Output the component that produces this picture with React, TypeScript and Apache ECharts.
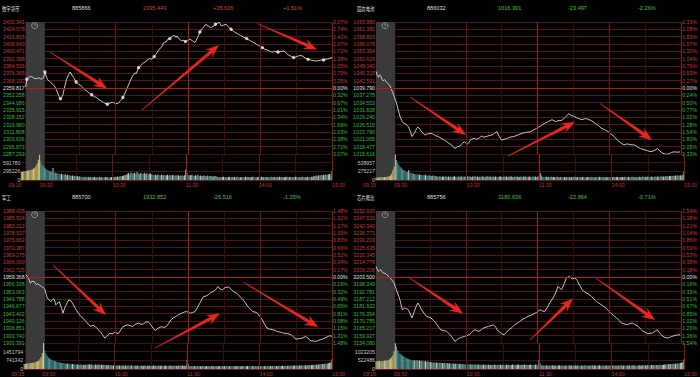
import React, { useEffect, useRef } from 'react';
import * as echarts from 'echarts';

// ---------- titles ----------
const NAMES = ['数字货币', '固态电池', '军工', '芯片概念'];
const CODES = ['885866', '886032', '885700', '885756'];
const LASTS = ['2395.443', '1016.301', '1932.852', '3180.636'];
const CHGS = ['+35.626', '-23.497', '-26.516', '-22.864'];
const PCTS = ['+1.51%', '-2.26%', '-1.35%', '-0.71%'];
const UP = [true, false, false, false];

// ---------- axis labels (top -> bottom) ----------
const TL_PRICE_LABELS = ['2432.341','2424.578','2416.815','2408.643','2400.471','2392.398','2384.536','2376.365','2368.193','2359.817','2352.258','2344.086','2335.915','2328.152','2319.980','2311.808','2303.636','2295.873','2287.293'];
const TL_PCT_LABELS = ['3.07%','2.74%','2.42%','2.07%','1.72%','1.38%','1.05%','0.70%','0.35%','0.00%','0.32%','0.67%','1.01%','1.34%','1.69%','2.03%','2.38%','2.71%','3.07%'];
const TR_PRICE_LABELS = ['1063.980','1061.382','1058.803','1056.078','1053.354','1050.629','1048.040','1045.315','1042.591','1039.790','1037.278','1034.553','1031.828','1029.240','1026.515','1023.790','1021.065','1018.477','1015.616'];
const TR_PCT_LABELS = ['2.33%','2.08%','1.83%','1.57%','1.30%','1.04%','0.79%','0.53%','0.27%','0.00%','0.24%','0.50%','0.77%','1.02%','1.28%','1.54%','1.80%','2.05%','2.33%'];
const BL_PRICE_LABELS = ['1988.435','1985.524','1982.212','1978.937','1975.662','1972.387','1969.275','1966.000','1962.725','1959.368','1956.338','1953.063','1949.788','1946.677','1943.402','1940.126','1936.851','1933.740','1930.391'];
const BL_PCT_LABELS = ['1.48%','1.32%','1.17%','1.00%','0.83%','0.66%','0.51%','0.34%','0.17%','0.00%','0.15%','0.32%','0.49%','0.65%','0.81%','0.98%','1.15%','1.31%','1.48%'];
const BR_PRICE_LABELS = ['3252.920','3247.520','3242.340','3236.771','3231.203','3225.635','3220.345','3214.776','3209.208','3203.500','3198.349','3192.781','3187.212','3181.922','3176.354','3170.785','3165.217','3159.927','3154.080'];
const BR_PCT_LABELS = ['1.54%','1.38%','1.21%','1.04%','0.86%','0.69%','0.53%','0.35%','0.18%','0.00%','0.16%','0.33%','0.51%','0.67%','0.85%','1.02%','1.20%','1.36%','1.54%'];

const TL_VOL_LABELS = ['0', '295226', '591780', ''];
const TR_VOL_LABELS = ['0', '275217', '538957', ''];
const BL_VOL_LABELS = ['0', '741342', '1451794', ''];
const BR_VOL_LABELS = ['0', '522486', '1023205', ''];
// volume axis tops (thousands)
const VOL_TOPS = [887.67, 808.4, 2177.7, 1534.8];

const TIME_LABELS = ['09:15', '09:30', '10:30', '11:30', '14:00', '15:00'];
const HALF_HOURS = ['10:00', '10:30', '11:00', '11:30', '13:30', '14:00', '14:30', '15:00'];
const MAIN_LINES = ['10:30', '11:30', '14:00', '15:00'];
const PREMARKET = ['09:15', '09:30'];

// ---------- price lines: [minute slot, price] ----------
const TL_LINE = [[0,2360.9],[1,2369.4],[3,2372.0],[5,2372.3],[7,2370.5],[9,2370.1],[11,2371.0],[13,2369.4],[15,2371.2],[16,2377.4],[18,2369.4],[20,2367.0],[21,2365.7],[23,2363.5],[24,2362.0],[26,2356.5],[28,2350.0],[29,2347.9],[31,2352.0],[32,2358.4],[34,2369.4],[36,2375.0],[37,2377.4],[39,2373.0],[40,2371.2],[42,2366.4],[44,2364.0],[46,2362.5],[47,2361.3],[49,2358.0],[51,2356.5],[53,2354.0],[55,2352.3],[57,2350.5],[59,2349.3],[61,2347.0],[63,2345.5],[65,2343.8],[67,2342.5],[68,2341.9],[70,2343.0],[72,2344.2],[73,2343.8],[75,2342.5],[77,2343.0],[79,2346.0],[81,2349.3],[83,2355.0],[85,2361.3],[87,2367.5],[89,2373.0],[91,2376.5],[92,2375.5],[94,2382.2],[96,2384.5],[98,2387.7],[100,2388.5],[101,2390.5],[103,2392.1],[105,2391.5],[107,2394.3],[109,2398.0],[111,2402.3],[113,2404.5],[115,2409.7],[117,2410.5],[118,2413.0],[120,2414.1],[122,2416.5],[124,2417.7],[125,2415.5],[126,2417.0],[128,2413.3],[130,2411.5],[131,2412.5],[133,2410.8],[135,2412.5],[137,2413.3],[139,2411.5],[141,2409.7],[143,2415.0],[145,2421.3],[147,2425.0],[150,2429.8],[152,2428.0],[154,2426.2],[156,2427.5],[158,2429.8],[160,2431.0],[161,2432.3],[163,2427.9],[165,2429.0],[167,2429.8],[169,2426.5],[171,2424.4],[173,2422.0],[175,2420.5],[177,2418.8],[179,2417.5],[181,2416.0],[184,2414.1],[186,2412.5],[188,2411.0],[190,2409.7],[192,2408.0],[194,2406.5],[197,2404.2],[199,2402.5],[201,2401.5],[203,2400.5],[205,2399.0],[207,2400.0],[210,2399.4],[212,2399.8],[215,2400.5],[217,2398.0],[219,2396.0],[221,2394.5],[223,2393.2],[225,2394.0],[227,2395.0],[229,2395.7],[231,2394.5],[233,2392.5],[235,2391.3],[237,2390.5],[240,2389.8],[242,2389.5],[244,2390.0],[246,2390.5],[248,2390.6],[250,2391.5],[252,2392.0],[255,2393.2]];
const TL_DOT_SLOTS = [1,16,29,42,55,68,81,94,107,120,133,145,158,171,184,197,210,223,235,248];

const TR_LINE = [[0,1045.9],[1,1044.5],[2,1043.7],[3,1044.6],[4,1044.3],[5,1043.0],[6,1042.4],[7,1042.9],[9,1041.8],[11,1041.0],[12,1040.3],[14,1038.1],[15,1037.0],[17,1034.4],[19,1031.0],[20,1029.4],[22,1027.5],[23,1026.9],[25,1026.5],[27,1025.7],[29,1023.5],[30,1022.0],[32,1023.2],[34,1025.0],[35,1025.5],[37,1024.5],[38,1023.8],[40,1023.0],[41,1022.6],[43,1023.0],[46,1023.2],[48,1022.8],[50,1022.3],[52,1022.0],[54,1021.5],[57,1020.7],[59,1020.2],[61,1019.5],[63,1019.0],[65,1018.0],[66,1017.7],[68,1018.3],[70,1018.5],[72,1019.5],[74,1020.1],[76,1019.2],[77,1019.5],[79,1020.8],[82,1021.4],[84,1021.0],[86,1021.4],[88,1022.2],[90,1021.8],[92,1022.0],[95,1022.4],[97,1022.6],[99,1023.2],[101,1023.8],[103,1022.0],[105,1020.7],[107,1021.0],[110,1021.4],[112,1021.8],[115,1022.0],[118,1022.5],[122,1023.2],[125,1023.5],[129,1023.8],[132,1024.5],[134,1025.0],[136,1025.5],[138,1026.0],[141,1026.9],[144,1027.5],[147,1028.2],[150,1027.5],[152,1027.8],[155,1027.9],[158,1029.0],[161,1030.4],[163,1029.7],[165,1029.5],[168,1028.8],[170,1028.5],[172,1028.2],[175,1028.6],[177,1028.4],[180,1027.8],[183,1026.9],[186,1026.0],[188,1025.1],[191,1024.5],[194,1023.8],[196,1023.0],[199,1022.0],[202,1020.5],[205,1019.5],[207,1019.0],[210,1019.3],[213,1019.0],[216,1018.9],[219,1018.0],[221,1017.6],[224,1017.2],[227,1016.8],[229,1016.5],[231,1016.6],[233,1017.0],[235,1017.6],[237,1016.8],[239,1016.0],[241,1015.7],[243,1015.5],[245,1015.8],[247,1016.2],[249,1016.4],[252,1016.3],[254,1016.4]];

const BL_LINE = [[0,1960.4],[2,1959.4],[4,1956.7],[5,1957.5],[7,1957.4],[9,1956.0],[10,1956.4],[12,1955.8],[13,1955.3],[15,1954.6],[16,1954.1],[17,1952.0],[18,1950.2],[20,1949.0],[21,1948.6],[23,1949.8],[24,1949.4],[25,1947.2],[27,1948.0],[28,1948.6],[30,1945.5],[31,1943.5],[32,1945.0],[33,1946.4],[35,1948.5],[36,1949.4],[38,1948.8],[39,1947.9],[41,1946.0],[42,1945.0],[44,1943.5],[46,1942.0],[48,1941.2],[50,1939.9],[52,1938.8],[54,1937.6],[56,1938.2],[58,1937.6],[60,1936.5],[62,1935.4],[64,1934.0],[66,1932.5],[68,1933.5],[70,1934.7],[72,1934.4],[74,1935.0],[76,1934.8],[77,1934.4],[79,1936.0],[81,1937.6],[83,1938.0],[85,1938.4],[87,1938.0],[89,1937.6],[91,1938.6],[94,1939.2],[96,1938.6],[98,1938.8],[100,1939.5],[102,1939.8],[104,1938.5],[106,1936.9],[108,1935.9],[110,1936.8],[113,1937.6],[115,1937.2],[117,1937.6],[119,1939.0],[121,1940.6],[123,1941.5],[125,1942.0],[127,1942.8],[130,1943.5],[132,1944.0],[134,1944.2],[137,1943.5],[139,1943.8],[141,1944.2],[143,1946.0],[145,1947.9],[147,1950.0],[148,1950.8],[150,1951.0],[152,1951.6],[154,1952.5],[156,1953.0],[158,1953.8],[160,1955.2],[162,1954.0],[164,1953.8],[166,1954.8],[169,1955.0],[171,1954.0],[173,1953.0],[175,1952.5],[177,1951.6],[179,1950.5],[181,1949.4],[183,1948.0],[185,1946.4],[187,1945.3],[189,1944.2],[191,1944.0],[193,1943.5],[195,1942.0],[197,1940.6],[199,1938.5],[201,1936.9],[203,1936.5],[206,1936.2],[208,1935.8],[210,1935.4],[213,1935.0],[215,1934.7],[218,1934.5],[221,1934.0],[223,1933.0],[225,1932.1],[228,1932.3],[230,1932.5],[233,1933.3],[235,1932.5],[237,1931.5],[240,1931.2],[242,1931.1],[245,1931.8],[247,1932.1],[250,1932.8],[253,1933.6],[255,1933.3]];

const BR_LINE = [[0,3211.4],[1,3209.5],[2,3207.7],[3,3208.5],[4,3209.0],[5,3207.5],[6,3206.5],[8,3206.0],[9,3205.2],[11,3203.5],[13,3201.5],[15,3199.2],[17,3194.0],[19,3189.0],[20,3186.5],[22,3179.0],[24,3180.3],[26,3179.5],[27,3179.0],[29,3175.0],[30,3172.8],[32,3177.7],[34,3182.5],[35,3184.0],[37,3181.0],[38,3179.0],[40,3176.5],[42,3174.0],[44,3173.5],[46,3172.8],[48,3171.0],[50,3169.1],[52,3166.5],[54,3164.0],[56,3163.5],[59,3162.8],[61,3161.0],[63,3159.0],[65,3156.5],[66,3155.3],[68,3156.8],[70,3157.8],[72,3158.5],[74,3159.0],[76,3159.8],[78,3160.3],[80,3162.0],[82,3164.0],[84,3163.5],[86,3162.8],[88,3164.0],[90,3165.3],[92,3166.0],[94,3166.5],[96,3167.0],[98,3167.8],[100,3166.0],[101,3164.0],[103,3162.5],[105,3161.0],[107,3160.3],[109,3162.0],[111,3164.0],[114,3166.0],[116,3167.8],[119,3169.5],[122,3171.6],[125,3173.0],[127,3174.0],[130,3175.0],[133,3176.5],[135,3177.5],[137,3179.0],[139,3178.0],[141,3177.7],[143,3180.5],[145,3184.0],[148,3188.0],[150,3191.5],[152,3196.5],[153,3195.5],[155,3194.0],[157,3198.0],[159,3202.8],[161,3203.8],[162,3203.5],[164,3202.0],[166,3202.8],[168,3201.0],[169,3199.0],[171,3196.0],[172,3194.0],[174,3192.5],[176,3191.5],[178,3190.5],[180,3189.0],[182,3187.0],[184,3185.2],[186,3184.0],[188,3182.8],[190,3181.5],[192,3180.3],[194,3178.5],[196,3176.5],[198,3175.0],[201,3172.8],[203,3171.0],[205,3169.1],[207,3168.5],[209,3167.8],[212,3168.5],[214,3169.1],[216,3168.0],[219,3166.5],[221,3164.5],[223,3162.8],[225,3162.0],[227,3161.0],[229,3161.4],[231,3161.6],[233,3162.8],[235,3164.0],[237,3161.5],[239,3159.5],[241,3158.5],[243,3157.8],[245,3158.2],[247,3159.0],[249,3159.5],[251,3160.0],[254,3160.3]];

// ---------- volumes per minute slot (thousands) ----------
const TL_VOL = [280,285,300,295,310,320,330,325,350,360,380,420,470,560,690,860,
640,520,470,430,380,350,330,300,290,280,410,260,250,235,225,
210,195,215,185,175,200,165,175,150,165,140,155,130,145,120,135,115,125,110,105,
100,90,110,95,100,85,105,90,95,100,85,95,90,100,80,95,90,85,100,90,95,80,90,100,85,95,110,100,120,115,130,125,140,150,160,175,
210,240,200,260,230,220,250,210,270,230,200,240,220,210,250,200,230,190,210,220,200,180,
170,180,160,190,170,150,180,160,170,150,160,175,155,165,150,170,160,145,165,150,160,140,155,150,145,160,
360,240,
170,150,160,180,150,140,160,150,170,140,150,130,145,155,140,130,150,125,140,135,120,130,140,125,
110,95,105,90,100,115,95,100,85,105,110,95,100,90,105,95,110,100,85,95,
105,100,90,110,95,100,105,90,95,110,100,95,85,100,105,95,110,90,100,95,
105,100,95,90,110,100,95,105,90,100,95,110,100,105,90,95,100,110,95,105,
100,90,105,95,110,100,95,105,100,90,115,100,105,95,110,105,100,115,110,
130,140,150,130,160,150,170,160,180,170,190,180,200,210,190,
290];

const TR_VOL = [70,80,75,85,80,90,85,95,90,100,110,120,150,200,300,420,
790,620,540,470,410,380,330,310,290,260,250,300,230,220,210,
200,190,180,175,165,170,160,155,150,145,160,140,135,150,130,125,140,120,130,115,
110,100,115,95,105,110,100,120,95,105,100,110,95,105,115,100,95,110,105,100,
115,95,105,100,110,120,100,105,95,110,105,115,100,110,95,105,100,110,105,95,
100,115,105,100,110,95,105,100,110,100,95,105,110,100,95,105,100,110,95,100,
105,110,100,95,105,100,110,95,100,105,95,110,100,105,95,100,110,100,95,105,
100,110,95,105,100,
210,140,
100,95,90,105,85,95,90,100,85,90,95,85,100,90,85,95,90,80,95,85,
90,85,95,80,90,85,100,90,85,95,80,90,85,95,90,80,85,95,90,85,
95,90,85,80,95,90,85,100,90,85,95,90,80,85,95,90,85,80,90,95,
85,90,95,80,85,90,95,85,100,90,85,95,90,85,100,95,90,85,95,90,
100,95,90,105,95,100,90,105,100,95,110,100,95,105,100,110,105,100,115,105,
110,105,
115,120,110,125,130,120,135,125,140,130,145,135,150,140,160,
260];

const BL_VOL = [420,450,470,460,490,510,500,530,550,560,600,640,700,820,1000,1350,
2170,1560,1300,1100,960,900,820,780,720,680,640,610,580,560,530,
520,500,480,470,450,460,430,420,400,410,390,380,370,390,360,350,370,340,360,330,
380,360,370,390,350,380,360,340,370,350,360,380,340,350,330,360,320,340,310,330,
300,320,290,310,300,280,310,290,300,280,290,300,270,290,280,300,
290,270,300,280,260,290,270,300,280,260,290,270,280,300,260,280,270,290,260,280,
300,270,280,260,290,270,280,300,260,270,290,280,260,270,300,280,260,290,270,280,
260,290,270,280,300,270,280,290,
760,420,
260,240,250,230,260,240,220,250,230,240,220,250,230,240,260,220,240,230,250,220,
240,230,250,220,240,260,230,240,220,250,230,240,220,250,240,230,220,250,230,240,
250,220,240,230,250,240,220,230,250,240,230,220,250,240,230,250,220,240,230,260,
240,230,250,240,220,260,240,250,230,260,250,240,260,250,270,250,260,280,260,270,
250,280,270,260,290,270,280,300,280,290,270,300,290,310,300,290,320,300,310,330,
310,320,340,
350,330,370,360,380,400,390,420,410,440,430,460,480,520,560,
810];

const BR_VOL = [440,470,460,480,450,490,470,500,480,510,520,560,620,700,800,1050,
1520,1330,1100,960,900,860,780,740,700,650,620,590,560,540,520,
500,510,490,520,480,500,470,490,460,450,470,430,440,410,420,400,380,390,370,380,
370,360,380,350,360,340,370,330,350,320,340,330,310,330,300,320,310,290,310,300,
280,300,290,270,290,280,260,280,270,260,250,270,260,250,270,250,
250,240,260,230,250,240,260,230,240,250,230,260,240,230,250,240,260,230,250,240,
230,260,240,250,230,240,260,250,230,240,250,260,230,240,250,230,260,240,250,230,
240,260,250,240,230,260,250,240,
510,330,
220,200,210,190,220,200,190,210,200,220,190,200,210,190,200,220,190,210,200,190,
210,200,190,220,200,210,190,200,210,190,220,200,190,210,200,190,220,210,200,190,
210,200,220,190,200,210,190,200,220,200,190,210,200,190,220,200,210,190,200,220,
190,210,200,190,210,200,220,190,210,200,190,220,200,210,190,200,220,210,200,190,
210,220,200,210,230,210,220,200,230,220,210,240,220,230,210,240,230,220,250,230,
240,250,260,
270,260,290,280,300,290,310,300,330,310,340,330,360,380,400,
570];

// ---------- layout / decoration ----------
const LAYOUT = [
  { left: 21, top: 22, width: 311 },
  { left: 376, top: 22, width: 308 },
  { left: 21, top: 211, width: 311 },
  { left: 376, top: 211, width: 308 },
];
const PRICE_H = 132;
const VOL_H = 26;

// annotation arrows: [tailX, tailY, tipX, tipY] in pixels
const ARROWS = [
  [50, 52, 107, 88.5], [142, 110, 219, 45], [257, 23.5, 317, 49.5],
  [410, 97, 466, 135], [508, 156, 575, 122], [600, 103.5, 652, 140],
  [53, 265, 106, 315], [155, 348, 220, 313.5], [243, 282, 318, 327],
  [408, 277, 463, 313.5], [530, 340, 573, 298.5], [595, 277.5, 655, 320],
];

const FONT = "'Liberation Sans Narrow', 'Liberation Sans', Arial, sans-serif";
const CJK = "'Noto Sans CJK SC', sans-serif";
const RED = '#cc3838';
const GREEN = '#36bd36';
const WHITE = '#e2e2e2';

function buildCats() {
  const f = (m: number) => String(Math.floor(m / 60)).padStart(2, '0') + ':' + String(m % 60).padStart(2, '0');
  const c: string[] = [];
  for (let m = 555; m <= 570; m++) c.push(f(m));
  for (let m = 571; m <= 690; m++) c.push(f(m));
  for (let m = 781; m <= 900; m++) c.push(f(m));
  return c;
}

function arrowPoints(tx: number, ty: number, px: number, py: number) {
  const dx = px - tx, dy = py - ty;
  const L = Math.hypot(dx, dy);
  const ux = dx / L, uy = dy / L;
  const nx = -uy, ny = ux;
  const P = (a: number, b: number) => [tx + ux * a + nx * b, ty + uy * a + ny * b];
  return [P(0, 0.35), P(L - 10, 1.7), P(L - 13.5, 5.3), P(L, 0), P(L - 13.5, -5.3), P(L - 10, -1.7), P(0, -0.35)];
}

export default function App() {
  const ref = useRef<HTMLDivElement>(null);
  useEffect(() => {
    document.body.style.margin = '0';
    document.body.style.background = '#000';
    const chart = echarts.init(ref.current!, null, { renderer: 'svg' });
    const CATS = buildCats();
    const slot = (t: string) => CATS.indexOf(t);
    const makeVLines = (extra: any[] = []) => ({
      silent: true, symbol: 'none', label: { show: false },
      data: [
        ...MAIN_LINES.map((t) => ({
          xAxis: slot(t),
          lineStyle: { color: t === '11:30' ? '#a11f1f' : t === '15:00' ? '#8a1a1a' : '#6b1616', width: 1, type: 'solid' },
        })),
        ...extra,
      ],
    });
    const lines = [TL_LINE, TR_LINE, BL_LINE, BR_LINE];
    const vols = [TL_VOL, TR_VOL, BL_VOL, BR_VOL];
    const priceLabels = [TL_PRICE_LABELS, TR_PRICE_LABELS, BL_PRICE_LABELS, BR_PRICE_LABELS];
    const pctLabels = [TL_PCT_LABELS, TR_PCT_LABELS, BL_PCT_LABELS, BR_PCT_LABELS];
    const volLabels = [TL_VOL_LABELS, TR_VOL_LABELS, BL_VOL_LABELS, BR_VOL_LABELS];

    const grid: any[] = [], xAxis: any[] = [], yAxis: any[] = [], series: any[] = [], graphic: any[] = [];
    const priceXAxisIdx: number[] = [];
    const lblColor = (v: any) => { const n = Math.round(Number(v)); return n > 9 ? RED : n === 9 ? WHITE : GREEN; };

    LAYOUT.forEach((P, k) => {
      const pl = priceLabels[k];
      const hi = parseFloat(pl[0]), lo = parseFloat(pl[18]);
      const toU = (p: number) => ((p - lo) / (hi - lo)) * 18;
      const gi = grid.length;
      grid.push({ left: P.left, top: P.top, width: P.width, height: PRICE_H });
      grid.push({ left: P.left, top: P.top + PRICE_H, width: P.width, height: VOL_H });
      const xi = xAxis.length;
      priceXAxisIdx.push(xi);
      xAxis.push({
        type: 'category', gridIndex: gi, data: CATS, boundaryGap: false,
        axisLine: { show: false }, axisTick: { show: false }, axisLabel: { show: false },
        splitLine: { show: true, interval: (i: number, v: string) => HALF_HOURS.includes(v), lineStyle: { color: '#3c0b0b', width: 1 } },
      });
      xAxis.push({
        type: 'category', gridIndex: gi + 1, data: CATS, boundaryGap: false,
        axisLine: { show: true, lineStyle: { color: '#6b1616' } }, axisTick: { show: false },
        axisLabel: {
          show: true, interval: (i: number, v: string) => TIME_LABELS.includes(v),
          color: '#c23232', fontSize: 5.2, fontFamily: FONT, margin: 2, align: 'left', alignMinLabel: 'right',
        },
        splitLine: { show: true, interval: (i: number, v: string) => HALF_HOURS.includes(v), lineStyle: { color: '#3c0b0b', width: 1 } },
      });
      const yi = yAxis.length;
      yAxis.push({
        type: 'value', gridIndex: gi, min: 0, max: 18, interval: 1, position: 'left',
        axisLine: { show: false }, axisTick: { show: false },
        splitLine: { show: true, lineStyle: { color: '#591313', width: 1 } },
        axisLabel: { formatter: (v: number) => pl[18 - Math.round(v)], color: lblColor, fontSize: 5.2, fontFamily: FONT, margin: 1, align: 'right' },
      });
      yAxis.push({
        type: 'value', gridIndex: gi, min: 0, max: 18, interval: 1, position: 'right',
        axisLine: { show: false }, axisTick: { show: false }, splitLine: { show: false },
        axisLabel: { formatter: (v: number) => pctLabels[k][18 - Math.round(v)], color: lblColor, fontSize: 5.2, fontFamily: FONT, margin: 1, align: 'left' },
      });
      const vTop = VOL_TOPS[k];
      yAxis.push({
        type: 'value', gridIndex: gi + 1, min: 0, max: vTop, interval: vTop / 3, position: 'left',
        axisLine: { show: false }, axisTick: { show: false },
        splitLine: { show: true, lineStyle: { color: '#4a1010', width: 1 } },
        axisLabel: { formatter: (v: number) => volLabels[k][Math.round(v / (vTop / 3))] || '', color: '#c4c4c4', fontSize: 5.2, fontFamily: FONT, margin: 1, align: 'right' },
      });

      const lineData = lines[k].map(([i, p]) => [i, toU(p)]);
      series.push({
        type: 'line', xAxisIndex: xi, yAxisIndex: yi, data: lineData, symbol: 'none', showSymbol: false,
        lineStyle: { color: '#dadada', width: 0.9 }, z: 3, silent: true,
        markLine: makeVLines([{ yAxis: 9, lineStyle: { color: '#b81c1c', width: 1.2, type: 'solid' } }]),
      });
      if (k === 0) {
        series.push({
          type: 'scatter', xAxisIndex: xi, yAxisIndex: yi, symbol: 'circle', symbolSize: 3.4, z: 4, silent: true,
          itemStyle: { color: '#f2f2f2' },
          data: lines[k].filter(([i]) => TL_DOT_SLOTS.includes(i)).map(([i, p]) => [i, toU(p)]),
        });
      }
      const vol = vols[k];
      series.push({
        type: 'bar', xAxisIndex: xi + 1, yAxisIndex: yi + 2, data: vol, barWidth: 0.9, z: 3, silent: true,
        itemStyle: {
          color: (p: any) => {
            const i = p.dataIndex; const prev = i > 0 ? vol[i - 1] : vol[i];
            if (i < 16) return vol[i] >= prev ? '#d6c676' : '#9cbba6';
            return vol[i] >= prev ? '#c6cabb' : '#4f9b98';
          },
        },
        markLine: makeVLines(),
      });

      // titles
      const ty = P.top - 14;
      const tx = P.left - 19;
      const valColor = UP[k] ? '#d04646' : '#40c440';
      graphic.push({ type: 'text', x: tx, y: ty, scaleX: 0.78, style: { text: NAMES[k], fill: '#dcdcdc', fontSize: 5.6, fontFamily: CJK, verticalAlign: 'middle' } });
      graphic.push({ type: 'text', x: tx + 70, y: ty, style: { text: CODES[k], fill: '#dcdcdc', fontSize: 5.6, fontFamily: FONT, verticalAlign: 'middle' } });
      graphic.push({ type: 'text', x: tx + 141, y: ty, style: { text: LASTS[k], fill: valColor, fontSize: 5.6, fontFamily: FONT, verticalAlign: 'middle' } });
      graphic.push({ type: 'text', x: tx + 211, y: ty, style: { text: CHGS[k], fill: valColor, fontSize: 5.6, fontFamily: FONT, verticalAlign: 'middle' } });
      graphic.push({ type: 'text', x: tx + 281, y: ty, style: { text: PCTS[k], fill: valColor, fontSize: 5.6, fontFamily: FONT, verticalAlign: 'middle' } });
    });

    chart.setOption({
      animation: false,
      backgroundColor: '#000',
      grid, xAxis, yAxis, series,
    });

    // premarket shading (positioned from the axis scale) + icons
    LAYOUT.forEach((P, k) => {
      const xa = chart.convertToPixel({ xAxisIndex: priceXAxisIdx[k] }, slot(PREMARKET[0])) as number;
      const xb = chart.convertToPixel({ xAxisIndex: priceXAxisIdx[k] }, slot(PREMARKET[1])) as number;
      const half = P.width / (CATS.length - 1) / 2;
      graphic.push({
        type: 'rect', z: 1, silent: true,
        shape: { x: xa, y: P.top, width: xb - xa + half * 2, height: PRICE_H + VOL_H },
        style: { fill: '#3a3a3a' },
      });
      const cx = xa + 9;
      graphic.push({ type: 'circle', shape: { cx, cy: P.top + 3.7, r: 3 }, style: { fill: 'none', stroke: '#c8c8c8', lineWidth: 0.6 }, z: 20 });
      graphic.push({ type: 'text', x: cx, y: P.top + 3.9, z: 20, style: { text: '?', fill: '#c8c8c8', fontSize: 4.2, fontFamily: FONT, align: 'center', verticalAlign: 'middle' } });
    });
    ARROWS.forEach(([a, b, c, d]) => {
      graphic.push({ type: 'polygon', z: 30, shape: { points: arrowPoints(a, b, c, d) }, style: { fill: '#e8251d' } });
    });
    chart.setOption({ graphic });
    return () => chart.dispose();
  }, []);
  return <div ref={ref} style={{ width: 700, height: 377, background: '#000' }} />;
}
